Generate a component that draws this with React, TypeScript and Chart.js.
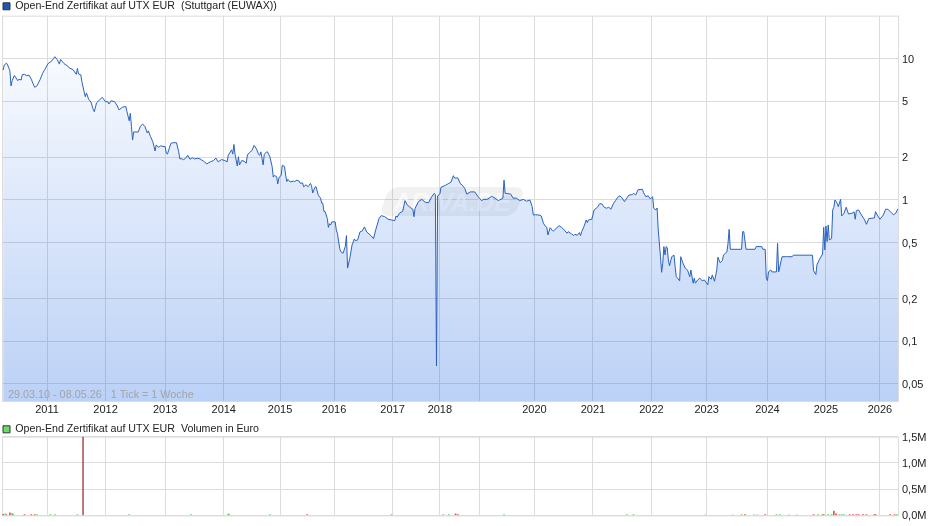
import { useEffect, useRef } from "react";
import { Chart, registerables } from "chart.js";

Chart.register(...registerables);

const FONT = "'Liberation Sans', Arial, sans-serif";
const GRID = "#dcdcdc";
const TEXT = "#222222";
const LINE = "#2a62bf";

const priceLegend = "Open-End Zertifikat auf UTX EUR  (Stuttgart (EUWAX))";
const volumeLegend = "Open-End Zertifikat auf UTX EUR  Volumen in Euro";
const rangeNote = "29.03.10 - 08.05.26   1 Tick = 1 Woche";

// x is the number of weekly ticks since 29.03.10
const weekCount = 796;
const xTickWeeks = [40, 92, 145, 197, 247, 295, 347, 389, 424, 473, 525, 577, 626, 680, 732, 780];
const xTickLabels = ["2011", "2012", "2013", "2014", "2015", "2016", "2017", "2018", "", "2020", "2021", "2022", "2023", "2024", "2025", "2026"];
const priceTicks = [0.05, 0.1, 0.2, 0.5, 1, 2, 5, 10];
const volumeTicks = [0, 500000, 1000000, 1500000];

const priceWeeks = [
  1, 2, 4, 5, 7, 8, 9, 11, 14, 15, 17, 18, 20, 22, 24, 26, 29, 31, 34, 36,
  38, 41, 44, 46, 47, 49, 51, 52, 55, 59, 60, 63, 66, 67, 68, 70, 71, 73, 74, 75,
  77, 79, 81, 82, 84, 86, 89, 92, 94, 95, 97, 100, 102, 104, 107, 110, 111, 113, 114, 115,
  116, 117, 121, 123, 125, 127, 129, 130, 132, 134, 136, 137, 139, 141, 145, 146, 147, 150, 152, 155,
  157, 158,
  160, 161, 163, 165, 167, 169, 171, 174, 176, 179, 182, 185, 188, 190, 192, 195, 198, 200,
  201, 204, 205, 206, 207, 209, 210, 211, 213, 215, 217, 218, 220, 222, 224, 226, 228, 229, 230, 232,
  233, 235, 236, 238, 240, 241, 242, 244, 245, 246, 248, 249, 251, 252, 253, 254, 256, 259, 260, 262,
  264, 265, 267, 268, 270, 272, 274, 275, 276, 278, 279, 281, 283, 284, 285, 286, 287, 289, 290, 291,
  292, 293, 296, 297, 298, 300, 301, 303, 305, 306, 307, 309, 311, 313, 314, 316,
  318, 320, 322, 324, 328, 330, 332, 335, 337, 340, 343, 346, 349, 350, 351, 353, 356, 357, 358, 360,
  363, 365, 366, 367, 370, 373, 376, 379, 381, 384, 385, 386, 387, 389, 390, 394, 397, 399, 401, 402,
  405, 407, 409, 411, 413, 416, 420, 423, 426, 428, 431, 435, 438, 441, 445, 446, 447, 452, 454, 457,
  460, 463, 466, 469, 471, 472, 474, 478, 479, 481, 483, 484, 485, 487, 489, 490, 493, 495, 497, 499,
  502, 503, 506, 508, 509, 511, 513, 514, 515, 517, 519, 520, 521, 524, 526, 529, 531, 533, 535, 537,
  539, 541, 543, 545, 547, 549, 551, 553, 555, 557, 560, 561, 563, 565, 569, 570, 572, 574, 576, 578,
  579, 581, 582, 583, 585, 586, 587, 588, 589, 590, 591, 592, 593, 595, 597, 598, 599, 600, 602, 603,
  605, 607, 609, 611, 612, 614, 615, 616, 618, 620, 622, 624, 627, 628, 630, 631, 633, 635, 636, 638,
  640, 641, 644, 645, 646, 647, 653, 657, 658, 659, 661, 669, 670, 675, 676, 678, 679, 680, 681, 683,
  684, 688, 689, 690, 693, 697, 702, 703, 720, 721, 723, 724, 726, 729, 730, 731, 732, 733, 734, 735,
  737, 738, 739, 740, 742, 743, 745, 746, 748, 750, 752, 755, 757, 758, 759, 761, 763, 766, 768, 770,
  775, 776, 778, 780, 783, 785, 787, 790, 792, 794, 796,
];

const priceValues = [
  8.29, 9.0, 9.27, 9.0, 8.19, 6.4, 6.97, 7.6, 6.97, 7.14, 7.05, 7.68, 7.73, 7.55, 7.64, 7.14, 6.26, 6.4, 7.14, 7.85,
  8.36, 9.22, 9.58, 10.05, 10.3, 9.85, 9.13, 9.85, 9.22, 8.76, 8.55, 8.36, 7.73, 8.51, 7.77, 7.68, 6.86, 5.79, 5.37, 5.71,
  5.15, 4.92, 4.38, 4.21, 4.86, 5.03, 5.32, 4.95, 4.95, 4.77, 5.03, 4.95, 4.69, 4.33, 4.53, 4.58, 4.21, 3.63, 4.1, 3.3,
  2.65, 3.03, 3.02, 3.33, 3.44, 3.3, 2.98, 3.08, 2.8, 2.58, 2.22, 2.45, 2.36, 2.41, 2.38, 2.14, 2.11, 2.51, 2.54, 2.54,
  2.19, 1.95,
  1.96, 1.92, 1.97, 2.07, 1.94, 1.99, 1.95, 1.97, 1.95, 1.88, 1.8, 1.86, 1.9, 1.98, 1.86, 1.93, 1.9, 1.86,
  2.07, 2.26, 2.11, 2.47, 2.11, 1.74, 2.02, 1.77, 1.9, 1.88, 1.82, 2.08, 2.17, 2.23, 2.43, 2.3, 2.1, 2.07, 2.19, 1.77,
  2.1, 2.19, 2.18, 2.02, 1.72, 1.45, 1.49, 1.46, 1.3, 1.43, 1.5, 1.76, 1.72, 1.5, 1.35, 1.4, 1.34, 1.36, 1.35, 1.38,
  1.36, 1.31, 1.32, 1.24, 1.28, 1.24, 1.31, 1.26, 1.12, 1.23, 1.24, 1.08, 1.03, 0.95, 0.95, 0.83, 0.83, 0.74, 0.64, 0.68,
  0.666, 0.7, 0.7, 0.614, 0.58, 0.455, 0.43, 0.42, 0.47, 0.56, 0.33, 0.387, 0.481, 0.53, 0.515, 0.522,
  0.594, 0.604, 0.645, 0.594, 0.557, 0.533, 0.614, 0.742, 0.775, 0.762, 0.73, 0.722, 0.714, 0.77, 0.755, 0.805, 0.832, 0.907, 0.989, 0.922,
  0.882, 0.86, 0.762, 0.874, 0.973, 1.01, 0.963, 0.957, 1.03, 1.115, 1.09, 0.067, 1.07, 1.1, 1.23, 1.27, 1.31, 1.34, 1.485, 1.43,
  1.43, 1.31, 1.27, 1.21, 1.1, 1.14, 1.14, 1.055, 0.989, 1.01, 1.01, 1.06, 1.03, 0.989, 1.03, 1.38, 1.115, 1.1, 1.03, 1.03,
  0.989, 1.01, 0.98, 1.0, 0.897, 0.783, 0.787, 0.78, 0.771, 0.685, 0.648, 0.641, 0.566, 0.637, 0.607, 0.604, 0.637, 0.658, 0.641, 0.62,
  0.582, 0.597, 0.575, 0.56, 0.572, 0.563, 0.588, 0.56, 0.597, 0.648, 0.722, 0.691, 0.722, 0.731, 0.85, 0.888, 0.942, 0.937, 0.888, 0.874,
  0.888, 0.86, 0.937, 0.989, 1.045, 1.07, 1.03, 0.973, 1.03, 1.085, 1.09, 1.115, 1.085, 1.18, 1.19, 1.125, 1.055, 1.07, 1.016, 1.055,
  0.874, 0.85, 0.878, 0.614, 0.397, 0.308, 0.357, 0.468, 0.409, 0.468, 0.46, 0.377, 0.342, 0.397, 0.407, 0.338, 0.287, 0.281, 0.268, 0.397,
  0.357, 0.329, 0.32, 0.287, 0.32, 0.258, 0.28, 0.258, 0.272, 0.28, 0.268, 0.272, 0.251, 0.287, 0.275, 0.295, 0.266, 0.32, 0.394, 0.36,
  0.373, 0.409, 0.429, 0.494, 0.62, 0.448, 0.448, 0.448, 0.597, 0.597, 0.448, 0.448, 0.468, 0.468, 0.448, 0.448, 0.28, 0.269, 0.311, 0.32,
  0.31, 0.31, 0.494, 0.31, 0.397, 0.397, 0.397, 0.407, 0.407, 0.316, 0.297, 0.348, 0.377, 0.415, 0.641, 0.443, 0.655, 0.508, 0.666, 0.522,
  0.533, 0.85, 0.888, 1.0, 0.947, 0.897, 1.01, 0.771, 0.805, 0.888, 0.796, 0.805, 0.823, 0.731, 0.84, 0.85, 0.796, 0.731, 0.673, 0.738,
  0.746, 0.827, 0.771, 0.731, 0.783, 0.86, 0.86, 0.813, 0.787, 0.805, 0.868,
];

const upWeeks = [3, 9, 10, 31, 43, 47, 67, 113, 168, 201, 202, 238, 346, 392, 397, 446, 555, 561, 657, 688, 691, 725, 730, 734, 737, 744, 746, 748, 795];
const upVolumes = [30000, 40000, 20000, 15000, 15000, 15000, 15000, 15000, 15000, 30000, 15000, 15000, 15000, 15000, 15000, 15000, 15000, 15000, 15000, 15000, 15000, 15000, 20000, 15000, 15000, 15000, 15000, 15000, 15000];
const downWeeks = [1, 4, 7, 20, 26, 29, 271, 403, 405, 660, 678, 721, 729, 739, 741, 753, 756, 759, 761, 765, 768, 775, 776, 789, 793];
const downVolumes = [20000, 12000, 50000, 15000, 15000, 15000, 15000, 30000, 15000, 15000, 15000, 15000, 15000, 80000, 30000, 15000, 15000, 15000, 15000, 15000, 15000, 15000, 15000, 15000, 15000];
const flatWeeks = [625, 649, 668, 671, 699, 706];
const flatVolumes = [12000, 12000, 12000, 12000, 12000, 12000];
const peakWeeks = [72];
const peakVolumes = [1500000];

const toPoints = (xs: number[], ys: number[]) => xs.map((x, i) => ({ x, y: ys[i] }));

// the legend has no margin option, so its height is corrected here
const legendGap = (gap: number) => ({
  id: "legendGap",
  beforeInit(chart: any) {
    const fit = chart.legend.fit;
    chart.legend.fit = function () {
      fit.call(this);
      this.height += gap;
    };
  },
});

const plotFrame = {
  id: "plotFrame",
  beforeDatasetsDraw(chart: any) {
    const { ctx, chartArea } = chart;
    ctx.save();
    ctx.strokeStyle = GRID;
    ctx.lineWidth = 1;
    ctx.strokeRect(chartArea.left + 0.5, chartArea.top + 0.5, chartArea.width, chartArea.height);
    ctx.restore();
  },
};

const watermark = {
  id: "watermark",
  beforeDatasetsDraw(chart: any) {
    const { ctx, chartArea } = chart;
    const cx = (chartArea.left + chartArea.right) / 2 + 2;
    const cy = 202;
    ctx.save();
    ctx.translate(cx, cy);
    ctx.transform(1, 0, -0.35, 1, 0, 0);
    ctx.fillStyle = "rgba(120,120,120,0.1)";
    ctx.beginPath();
    ctx.roundRect(-68, -15, 136, 29, 9);
    ctx.fill();
    ctx.restore();
    ctx.save();
    ctx.font = `italic bold 25px ${FONT}`;
    ctx.fillStyle = "rgba(255,255,255,0.6)";
    ctx.textAlign = "center";
    ctx.textBaseline = "middle";
    ctx.fillText("ARIVA.DE", cx, cy + 2);
    ctx.restore();
  },
};

const noteText = {
  id: "noteText",
  afterDatasetsDraw(chart: any) {
    const { ctx, chartArea } = chart;
    ctx.save();
    ctx.font = `10.8px ${FONT}`;
    ctx.fillStyle = "#a3a3a8";
    ctx.textBaseline = "middle";
    ctx.fillText(rangeNote, chartArea.left + 6, chartArea.bottom - 6);
    ctx.restore();
  },
};

const legendOptions = (text: string, fill: string) => ({
  position: "top" as const,
  align: "start" as const,
  labels: {
    boxWidth: 7,
    boxHeight: 7,
    padding: 1,
    color: TEXT,
    font: { family: FONT, size: 10.65, lineHeight: "9px" },
    generateLabels: () => [{ text, fillStyle: fill, strokeStyle: "#333333", lineWidth: 1, fontColor: TEXT }],
  },
});

const xScale = (showLabels: boolean, height: number) => ({
  type: "linear" as const,
  min: 0,
  max: weekCount,
  offset: false,
  afterBuildTicks: (scale: any) => {
    scale.ticks = xTickWeeks.map((value) => ({ value }));
  },
  afterFit: (scale: any) => {
    scale.height = height;
  },
  grid: { color: GRID, drawTicks: false, offset: false },
  border: { display: false },
  ticks: {
    display: showLabels,
    autoSkip: false,
    maxRotation: 0,
    padding: 2,
    color: TEXT,
    font: { family: FONT, size: 11 },
    callback: (_value: any, index: number) => xTickLabels[index],
  },
});

const yTickStyle = {
  autoSkip: false,
  padding: 4,
  labelOffset: 1,
  color: TEXT,
  font: { family: FONT, size: 11 },
};

export default function App() {
  const priceRef = useRef<HTMLCanvasElement>(null);
  const volumeRef = useRef<HTMLCanvasElement>(null);

  useEffect(() => {
    const priceChart = new Chart(priceRef.current!, {
      type: "line",
      data: {
        datasets: [
          {
            label: priceLegend,
            data: toPoints(priceWeeks, priceValues),
            borderColor: LINE,
            borderWidth: 1,
            pointRadius: 0,
            tension: 0,
            fill: "start",
            backgroundColor: ({ chart }: any) => {
              if (!chart.chartArea) return "transparent";
              const { top, bottom } = chart.chartArea;
              const gradient = chart.ctx.createLinearGradient(0, top, 0, bottom);
              gradient.addColorStop(0, "rgba(30,102,228,0)");
              gradient.addColorStop(1, "rgba(30,102,228,0.3)");
              return gradient;
            },
          },
        ],
      },
      options: {
        responsive: false,
        animation: false,
        layout: { padding: { left: 2 } },
        plugins: {
          legend: legendOptions(priceLegend, "#1c57b5"),
          tooltip: { enabled: false },
        },
        scales: {
          x: xScale(true, 18),
          y: {
            type: "logarithmic",
            position: "right",
            min: 0.0379,
            max: 20.1,
            afterBuildTicks: (scale: any) => {
              scale.ticks = priceTicks.map((value) => ({ value }));
            },
            afterFit: (scale: any) => {
              scale.width = 42;
            },
            grid: { color: GRID, drawTicks: false },
            border: { display: false },
            ticks: {
              ...yTickStyle,
              callback: (value: any) => String(value).replace(".", ","),
            },
          },
        },
      },
      plugins: [legendGap(-6), plotFrame, watermark, noteText],
    });

    const barStyle = { barThickness: 1, grouped: false };
    const volumeChart = new Chart(volumeRef.current!, {
      type: "bar",
      data: {
        datasets: [
          { label: "up", data: toPoints(upWeeks, upVolumes), backgroundColor: "#5fd65f", ...barStyle },
          { label: "down", data: toPoints(downWeeks, downVolumes), backgroundColor: "#e65353", ...barStyle },
          { label: "flat", data: toPoints(flatWeeks, flatVolumes), backgroundColor: "#b0b0b0", ...barStyle },
          { label: "peak", data: toPoints(peakWeeks, peakVolumes), backgroundColor: "#b35c5c", ...barStyle },
        ],
      },
      options: {
        responsive: false,
        animation: false,
        layout: { padding: { left: 2, bottom: 9 } },
        plugins: {
          legend: legendOptions(volumeLegend, "#66dd66"),
          tooltip: { enabled: false },
        },
        scales: {
          x: xScale(false, 0),
          y: {
            min: 0,
            max: 1500000,
            position: "right",
            afterBuildTicks: (scale: any) => {
              scale.ticks = volumeTicks.map((value) => ({ value }));
            },
            afterFit: (scale: any) => {
              scale.width = 42;
            },
            grid: { color: GRID, drawTicks: false },
            border: { display: false },
            ticks: {
              ...yTickStyle,
              callback: (value: any) => (value / 1000000).toFixed(1).replace(".", ",") + "M",
            },
          },
        },
      },
      plugins: [legendGap(-8), plotFrame],
    });

    return () => {
      priceChart.destroy();
      volumeChart.destroy();
    };
  }, []);

  return (
    <div style={{ position: "absolute", left: 0, top: 0, width: 940, height: 526, background: "#fff" }}>
      <canvas ref={priceRef} width={940} height={419} style={{ position: "absolute", left: 0, top: 0 }}></canvas>
      <canvas ref={volumeRef} width={940} height={103} style={{ position: "absolute", left: 0, top: 423 }}></canvas>
    </div>
  );
}
